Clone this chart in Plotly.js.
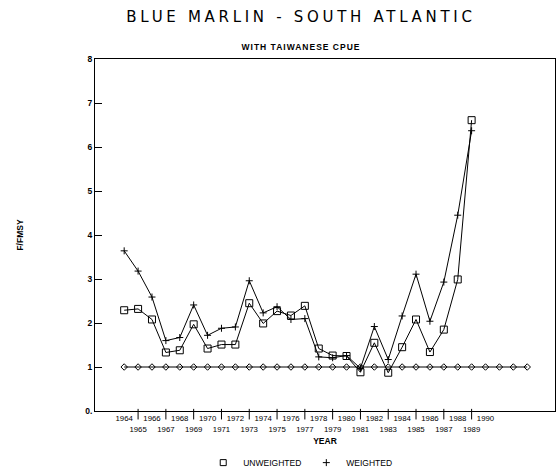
<!DOCTYPE html>
<html>
<head>
<meta charset="utf-8">
<script src="https://cdn.plot.ly/plotly-3.0.1.min.js"></script>
<style>
  html, body { margin: 0; padding: 0; background: #fff; }
  #chart { width: 557px; height: 474px; }
  .gtitle { letter-spacing: 3.7px; }
  g.annotation[data-index="0"] text { letter-spacing: 1px; }
</style>
</head>
<body>
<div id="chart"></div>
<script>
// ---- data ----
const years = [1964, 1965, 1966, 1967, 1968, 1969, 1970, 1971, 1972, 1973, 1974, 1975, 1976,
               1977, 1978, 1979, 1980, 1981, 1982, 1983, 1984, 1985, 1986, 1987, 1988, 1989];
const unweighted = [2.29, 2.32, 2.08, 1.33, 1.38, 1.97, 1.42, 1.51, 1.51, 2.45, 1.99, 2.27, 2.17,
                    2.39, 1.42, 1.26, 1.25, 0.88, 1.55, 0.87, 1.45, 2.08, 1.34, 1.85, 2.99, 6.61];
const weighted = [3.64, 3.18, 2.59, 1.60, 1.67, 2.41, 1.72, 1.88, 1.91, 2.96, 2.23, 2.37, 2.08,
                  2.10, 1.23, 1.21, 1.26, 0.97, 1.92, 1.17, 2.16, 3.11, 2.04, 2.93, 4.45, 6.37];
const refYears = [1964, 1965, 1966, 1967, 1968, 1969, 1970, 1971, 1972, 1973, 1974, 1975, 1976, 1977, 1978,
                  1979, 1980, 1981, 1982, 1983, 1984, 1985, 1986, 1987, 1988, 1989, 1990, 1991, 1992, 1993];
const refLevel = [1, 1, 1, 1, 1, 1, 1, 1, 1, 1, 1, 1, 1, 1, 1,
                  1, 1, 1, 1, 1, 1, 1, 1, 1, 1, 1, 1, 1, 1, 1];
const xTickVals = [1964, 1965, 1966, 1967, 1968, 1969, 1970, 1971, 1972, 1973, 1974, 1975, 1976, 1977,
                   1978, 1979, 1980, 1981, 1982, 1983, 1984, 1985, 1986, 1987, 1988, 1989, 1990];
const xTickText = ["1964", "<br>1965", "1966", "<br>1967", "1968", "<br>1969", "1970", "<br>1971",
                   "1972", "<br>1973", "1974", "<br>1975", "1976", "<br>1977", "1978", "<br>1979",
                   "1980", "<br>1981", "1982", "<br>1983", "1984", "<br>1985", "1986", "<br>1987",
                   "1988", "<br>1989", "1990"];
const separatorYears = [1965, 1967, 1969, 1971, 1973, 1975, 1977, 1979, 1981, 1983, 1985, 1987, 1989];
const yTickVals = [0, 1, 2, 3, 4, 5, 6, 7, 8];
const yTickText = ["0.", "1", "2", "3", "4", "5", "6", "7", "8"];
const seriesNames = ["UNWEIGHTED", "WEIGHTED"];

const ink = "#000";
const tickFont = { family: "Liberation Sans, Arial, sans-serif", size: 7.8, color: ink };

const traces = [
  { x: refYears, y: refLevel, mode: "lines+markers", showlegend: false, hoverinfo: "skip",
    line: { color: ink, width: 1 },
    marker: { symbol: "diamond-open", size: 5, color: ink, line: { width: 1, color: ink } } },
  { x: years, y: unweighted, mode: "lines+markers", name: seriesNames[0], showlegend: false,
    line: { color: ink, width: 1 },
    marker: { symbol: "square-open", size: 7, color: ink, line: { width: 1, color: ink } } },
  { x: years, y: weighted, mode: "lines+markers", name: seriesNames[1], showlegend: false,
    line: { color: ink, width: 1 },
    marker: { symbol: "cross-thin-open", size: 5, color: ink, line: { width: 1, color: ink } } },
  // legend-only entries (marker symbol without line, as in the reference key)
  { x: [null], y: [null], mode: "markers", name: seriesNames[0],
    marker: { symbol: "square-open", size: 6, color: ink, line: { width: 1, color: ink } } },
  { x: [null], y: [null], mode: "markers", name: seriesNames[1],
    marker: { symbol: "cross-thin-open", size: 5, color: ink, line: { width: 1, color: ink } } }
];

const shapes = separatorYears.map(yr => ({
  type: "line", xref: "x", yref: "paper", x0: yr, x1: yr, y0: -0.024, y1: 0.006,
  layer: "above", line: { color: ink, width: 1 }
}));

const layout = {
  width: 557, height: 474,
  paper_bgcolor: "#fff", plot_bgcolor: "#fff",
  margin: { l: 95, r: 2, t: 59, b: 63 },
  font: { family: "Liberation Sans, Arial, sans-serif", color: ink },
  title: {
    text: "BLUE MARLIN - SOUTH ATLANTIC",
    xref: "container", yref: "container", x: 0.5404, y: 0.965,
    xanchor: "center", yanchor: "middle",
    font: { family: "DejaVu Sans, sans-serif", size: 15, color: ink }
  },
  annotations: [
    { text: "WITH TAIWANESE CPUE", xref: "paper", yref: "paper", x: 0.4478, y: 1.0327,
      xanchor: "center", yanchor: "middle", showarrow: false,
      font: { family: "Liberation Sans, Arial, sans-serif", size: 8.5, weight: "bold", color: ink } }
  ],
  xaxis: {
    range: [1961.9, 1995.0],
    tickmode: "array", tickvals: xTickVals, ticktext: xTickText,
    ticks: "", tickangle: 0, tickfont: tickFont,
    showgrid: false, zeroline: false,
    showline: true, mirror: true, linecolor: ink, linewidth: 1,
    title: { text: "YEAR", standoff: 5,
             font: { family: "Liberation Sans, Arial, sans-serif", size: 8.5, weight: "bold", color: ink } }
  },
  yaxis: {
    range: [0, 8],
    tickmode: "array", tickvals: yTickVals, ticktext: yTickText,
    ticks: "inside", ticklen: 7, tickcolor: ink, tickwidth: 1,
    tickfont: { family: "Liberation Sans, Arial, sans-serif", size: 8.5, weight: "bold", color: ink },
    showgrid: false, zeroline: false,
    showline: true, mirror: true, linecolor: ink, linewidth: 1,
    title: { text: "F/FMSY", standoff: 60,
             font: { family: "Liberation Sans, Arial, sans-serif", size: 8.5, weight: "bold", color: ink } }
  },
  legend: {
    orientation: "h", xref: "container", yref: "container",
    x: 0.539, xanchor: "center", y: 0.024, yanchor: "middle",
    font: { family: "Liberation Sans, Arial, sans-serif", size: 8.5, color: ink },
    bgcolor: "rgba(0,0,0,0)"
  },
  shapes: shapes,
  showlegend: true
};

Plotly.newPlot("chart", traces, layout, { displayModeBar: false, staticPlot: true });
</script>
</body>
</html>
